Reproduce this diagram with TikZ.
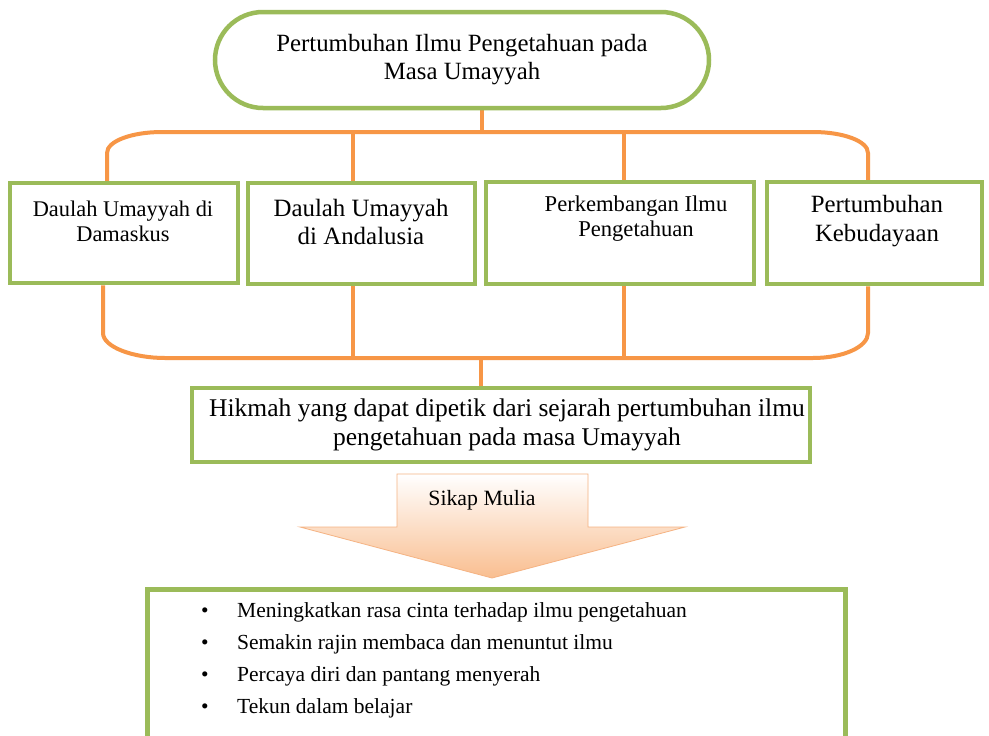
\documentclass[tikz,border=0pt]{standalone}
\usepackage{fontspec}
\setmainfont{Liberation Serif}
\usetikzlibrary{backgrounds}
\definecolor{ggreen}{HTML}{9BBB59}
\definecolor{gorange}{HTML}{F79646}
\definecolor{peach}{HTML}{F9BE90}
\definecolor{peachmid}{HTML}{FCDCC0}
\definecolor{peachedge}{HTML}{F5B383}
\begin{document}
\begin{tikzpicture}[x=1pt,y=-1pt,
  gbox/.style={draw=ggreen, line width=4.5pt, fill=white, inner sep=0pt},
  oline/.style={draw=gorange, line width=4pt},
  txt/.style={inner sep=0pt, align=center, text=black}]
\clip (0,0) rectangle (989,736);
% title
\node[gbox, rounded corners=48pt, minimum width=494pt, minimum height=96pt,
  align=center, font=\fontsize{24.8}{28}\selectfont] (title) at (462,60)
  {Pertumbuhan Ilmu Pengetahuan pada\\Masa Umayyah};
% four boxes
\node[gbox, minimum width=228pt, minimum height=100pt] (b1) at (124,233) {};
\node[gbox, minimum width=227pt, minimum height=101pt] (b2) at (361.5,233.5) {};
\node[gbox, minimum width=268pt, minimum height=102pt] (b3) at (620,233) {};
\node[gbox, minimum width=215pt, minimum height=102pt] (b4) at (874.5,233) {};
\node[txt, font=\fontsize{22.4}{25}\selectfont] (t1) at (123,221) {Daulah Umayyah di\\Damaskus};
\node[txt, font=\fontsize{24.9}{28}\selectfont] (t2) at (361,222) {Daulah Umayyah\\di Andalusia};
\node[txt, font=\fontsize{22.6}{25}\selectfont] (t3) at (636,219) {Perkembangan Ilmu\\Pengetahuan};
\node[txt, font=\fontsize{24.8}{29}\selectfont] (t4) at (877,221) {Pertumbuhan\\Kebudayaan};
% hikmah
\node[gbox, minimum width=618pt, minimum height=74pt] (hk) at (501,425) {};
\node[txt, font=\fontsize{25.5}{29}\selectfont] (hktxt) at (507,425)
  {Hikmah yang dapat dipetik dari sejarah pertumbuhan ilmu\\pengetahuan pada masa Umayyah};
% arrow
\path[draw=peachedge, line width=0.8pt, top color=white, middle color=peachmid, bottom color=peach]
  (397,474) -- (588,474) -- (588,527) -- (685,527) -- (492,578) -- (300,527) -- (397,527) -- cycle;
\node[txt, font=\fontsize{21.8}{25}\selectfont] (sikap) at (482,500) {Sikap Mulia};
% list box
\node[gbox, minimum width=698pt, minimum height=200pt, anchor=north west] (list) at (145,587) {};
\node[inner sep=0pt, anchor=north west, align=left, font=\fontsize{21.5}{32}\selectfont] (items) at (201,602)
  {\makebox[36pt][l]{\textbullet}Meningkatkan rasa cinta terhadap ilmu pengetahuan\\
   \makebox[36pt][l]{\textbullet}Semakin rajin membaca dan menuntut ilmu\\
   \makebox[36pt][l]{\textbullet}Percaya diri dan pantang menyerah\\
   \makebox[36pt][l]{\textbullet}Tekun dalam belajar};
% connectors
\coordinate (tj) at (482,132);
\coordinate (bj) at (481,358);
\coordinate (xl) at (107,0);
\coordinate (xbl) at (103,0);
\coordinate (x2) at (353,0);
\coordinate (x3) at (624,0);
\coordinate (xr) at (868,0);
\begin{scope}[on background layer]
\fill[white] (0,0) rectangle (989,736);
\draw[oline] (title.south -| tj) -- (tj);
\draw[oline] (b1.north -| xl) -- (107,153) .. controls (107,141) and (132,132) .. (162,132)
  -- (813,132) .. controls (843,132) and (868,141) .. (868,153) -- (b4.north -| xr);
\draw[oline] (b2.north -| x2) -- (x2 |- tj);
\draw[oline] (b3.north -| x3) -- (x3 |- tj);
\draw[oline] (b1.south -| xbl) -- (103,333) .. controls (103,347) and (133,358) .. (165,358)
  -- (813,358) .. controls (843,358) and (868,347) .. (868,333) -- (b4.south -| xr);
\draw[oline] (b2.south -| x2) -- (x2 |- bj);
\draw[oline] (b3.south -| x3) -- (x3 |- bj);
\draw[oline] (bj) -- (hk.north -| bj);
\end{scope}
\end{tikzpicture}
\end{document}
